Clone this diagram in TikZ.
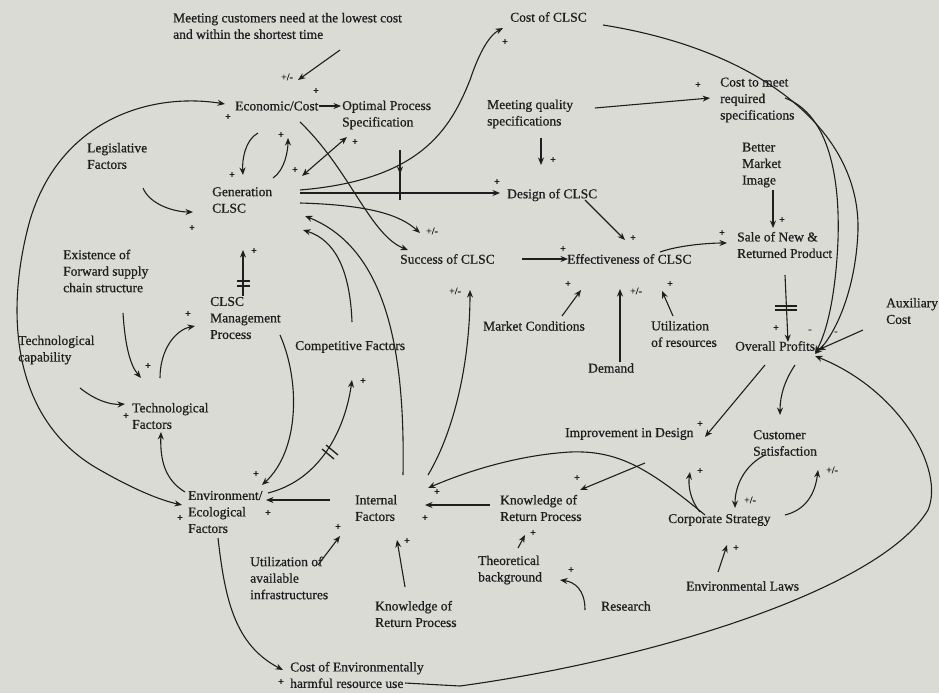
\documentclass[tikz,border=0pt]{standalone}
\usepackage{fontspec}
\setmainfont{Liberation Serif}
\newfontfamily\inkfont{Liberation Serif}[FakeBold=0.7]
\usetikzlibrary{arrows.meta,calc}
\definecolor{bg}{RGB}{219,219,214}
\definecolor{ink}{RGB}{30,30,30}
\begin{document}
\begin{tikzpicture}[x=1pt,y=-1pt,
  lab/.style={anchor=west,inner sep=0pt,align=left,text=ink,font=\inkfont\fontsize{13.5}{16.5}\selectfont},
  pol/.style={inner sep=0pt,text=ink,font=\inkfont\fontsize{10}{10}\selectfont},
  arr/.style={draw=ink,line width=1.1pt,-{Stealth[length=7.5pt,width=6pt]}},
  barr/.style={draw=ink,line width=1.1pt,{Stealth[length=7.5pt,width=6pt]}-{Stealth[length=7.5pt,width=6pt]}},
  dly/.style={draw=ink,line width=1.3pt}]
\fill[bg] (0,0) rectangle (939,693);
\useasboundingbox (0,0) rectangle (939,693);
% nodes
\node[lab] (meet) at (173,26) {Meeting customers need at the lowest cost\\and within the shortest time};
\node[lab] (econ) at (235,106) {Economic/Cost};
\node[lab] (opt) at (342,115) {Optimal Process\\Specification};
\node[lab] (legis) at (87,156) {Legislative\\Factors};
\node[lab] (gen) at (212,200) {Generation\\CLSC};
\node[lab] (costclsc) at (510,17) {Cost of CLSC};
\node[lab] (mqs) at (487,114) {Meeting quality\\specifications};
\node[lab] (ctm) at (720,100) {Cost to meet\\required\\specifications};
\node[lab] (bmi) at (742,165) {Better\\Market\\Image};
\node[lab] (design) at (507,195) {Design of CLSC};
\node[lab] (success) at (400,259) {Success of CLSC};
\node[lab] (eff) at (567,259) {Effectiveness of CLSC};
\node[lab] (sale) at (737,245) {Sale of New \&\\Returned Product};
\node[lab] (exist) at (63,271) {Existence of\\Forward supply\\chain structure};
\node[lab] (mgmt) at (210,318) {CLSC\\Management\\Process};
\node[lab] (comp) at (295,347) {Competitive Factors};
\node[lab] (techcap) at (18,350) {Technological\\capability};
\node[lab] (market) at (483,326) {Market Conditions};
\node[lab] (demand) at (588,368) {Demand};
\node[lab] (util) at (651,334) {Utilization\\of resources};
\node[lab] (profit) at (735,346) {Overall Profits};
\node[lab] (aux) at (886,311) {Auxiliary\\Cost};
\node[lab] (techf) at (132,416) {Technological\\Factors};
\node[lab] (improve) at (565,434) {Improvement in Design};
\node[lab] (cust) at (753,443) {Customer\\Satisfaction};
\node[lab] (env) at (188,512) {Environment/\\Ecological\\Factors};
\node[lab] (internal) at (355,508) {Internal\\Factors};
\node[lab] (krp1) at (500,508) {Knowledge of\\Return Process};
\node[lab] (corp) at (668,520) {Corporate Strategy};
\node[lab] (uai) at (250,578) {Utilization of\\available\\infrastructures};
\node[lab] (krp2) at (375,614) {Knowledge of\\Return Process};
\node[lab] (theo) at (478,570) {Theoretical\\background};
\node[lab] (research) at (601,606) {Research};
\node[lab] (envlaw) at (686,586) {Environmental Laws};
\node[lab] (costenv) at (290,675) {Cost of Environmentally\\harmful resource use};
% connectors
\draw[arr] ($(meet.west)+(167,24)$) -- ($(econ.west)+(63,-26)$);
\draw[barr] ($(econ.west)+(-10,-2)$) .. controls (150,92) and (60,120) .. (30,220) .. controls (5,310) and (10,420) .. (100,470) .. controls (135,490) and (160,500) .. ($(env.west)+(-6,-7)$);
\draw[arr] ($(econ.west)+(23,27)$) .. controls (245,140) and (242,160) .. ($(gen.west)+(31,-25)$);
\draw[arr] ($(gen.west)+(61,-22)$) .. controls (285,170) and (288,150) .. ($(econ.west)+(53,32)$);
\draw[barr] ($(opt.west)+(5,22)$) -- ($(gen.west)+(90,-24)$);
\draw[arr] (econ.east) -- ($(opt.west)+(-1,-9)$);
\draw[arr] ($(legis.west)+(56,32)$) .. controls (150,205) and (175,212) .. ($(gen.west)+(-19,12)$);
\draw[arr] ($(econ.west)+(65,16)$) .. controls (350,170) and (370,235) .. ($(success.west)+(8,-9)$);
\draw[arr] ($(gen.west)+(88,-10)$) .. controls (420,180) and (450,130) .. (470,80) .. controls (480,50) and (490,35) .. ($(costclsc.west)+(-7,11)$);
\draw[arr] ($(gen.west)+(88,-7)$) -- ($(design.west)+(-7,-2)$);
\draw[arr] (400,150) -- (400,174);
\draw[draw=ink,line width=2.4pt] (400,170) -- (400,200);
\draw[arr] ($(gen.west)+(88,3)$) .. controls (370,205) and (400,215) .. ($(success.west)+(20,-26)$);
\draw[arr] ($(internal.west)+(48,-33)$) .. controls (405,360) and (390,250) .. ($(gen.west)+(93,16)$);
\draw[arr] ($(comp.west)+(57,-25)$) .. controls (350,270) and (335,240) .. ($(gen.west)+(91,30)$);
\draw[arr] ($(mgmt.west)+(33,-22)$) -- ($(gen.west)+(31,50)$);
\draw[dly] (237,281) -- (250,281) (237,286) -- (250,286);
\draw[arr] ($(exist.west)+(60,42)$) .. controls (125,345) and (130,365) .. ($(techf.west)+(9,-38)$);
\draw[arr] ($(techf.west)+(28,-38)$) .. controls (160,350) and (175,330) .. ($(mgmt.west)+(-15,8)$);
\draw[arr] ($(techcap.west)+(62,38)$) .. controls (95,400) and (110,405) .. ($(techf.west)+(-7,-12)$);
\draw[arr] ($(env.west)+(-3,-20)$) .. controls (165,480) and (160,460) .. ($(techf.west)+(29,16)$);
\draw[arr] ($(mgmt.west)+(70,17)$) .. controls (300,380) and (300,450) .. ($(env.west)+(74,-27)$);
\draw[arr] ($(env.west)+(80,-19)$) .. controls (320,480) and (345,430) .. ($(comp.west)+(57,33)$);
\draw[dly] (322,449) -- (334,459) (326,445) -- (338,455);
\draw[arr] ($(internal.west)+(-25,-8)$) -- ($(env.west)+(78,-12)$);
\draw[arr] ($(internal.west)+(73,-33)$) .. controls (455,430) and (470,360) .. ($(success.west)+(70,31)$);
\draw[arr] ($(krp1.west)+(-10,-3)$) -- ($(internal.west)+(70,-3)$);
\draw[arr] ($(corp.west)+(37,-5)$) .. controls (650,470) and (620,450) .. (570,452) .. controls (520,455) and (470,470) .. ($(internal.west)+(73,-20)$);
\draw[arr] ($(improve.west)+(80,29)$) -- ($(krp1.west)+(80,-18)$);
\draw[arr] ($(profit.west)+(30,19)$) -- ($(improve.west)+(140,3)$);
\draw[arr] ($(profit.west)+(60,19)$) .. controls (785,380) and (780,395) .. ($(cust.west)+(27,-28)$);
\draw[arr] ($(cust.west)+(12,12)$) .. controls (745,465) and (735,485) .. ($(corp.west)+(67,-12)$);
\draw[arr] ($(corp.west)+(117,-5)$) .. controls (805,510) and (815,495) .. ($(cust.west)+(65,27)$);
\draw[arr] ($(corp.west)+(32,-8)$) .. controls (690,500) and (688,485) .. ($(improve.west)+(125,38)$);
\draw[arr] ($(envlaw.west)+(32,-14)$) -- ($(corp.west)+(59,25)$);
\draw[arr] ($(research.west)+(-16,4)$) .. controls (585,590) and (575,582) .. ($(theo.west)+(82,10)$);
\draw[arr] ($(theo.west)+(40,-22)$) -- ($(krp1.west)+(25,27)$);
\draw[arr] ($(krp2.west)+(30,-27)$) -- ($(internal.west)+(42,32)$);
\draw[arr] ($(uai.west)+(68,-13)$) -- ($(internal.west)+(-15,28)$);
\draw[arr] ($(env.west)+(30,26)$) .. controls (225,600) and (235,645) .. ($(costenv.west)+(-7,-5)$);
\draw[arr] ($(costenv.west)+(115,8)$) -- (460,686) .. controls (650,660) and (880,590) .. (928,510) .. controls (945,470) and (900,390) .. ($(profit.west)+(80,10)$);
\draw[arr] ($(costclsc.west)+(93,8)$) .. controls (760,50) and (860,130) .. (858,230) .. controls (856,290) and (835,335) .. ($(profit.west)+(80,8)$);
\draw[arr] ($(ctm.west)+(65,-2)$) .. controls (830,115) and (840,180) .. (838,240) .. controls (836,290) and (828,330) .. ($(profit.west)+(80,7)$);
\draw[arr] ($(aux.west)+(-23,19)$) -- ($(profit.west)+(83,4)$);
\draw[arr] ($(sale.west)+(48,30)$) -- ($(profit.west)+(53,-4)$);
\draw[dly] (775,306) -- (797,306) (775,310) -- (797,310);
\draw[arr] ($(bmi.west)+(31,25)$) -- ($(sale.west)+(36,-17)$);
\draw[arr] ($(design.west)+(78,5)$) -- ($(eff.west)+(58,-19)$);
\draw[arr] ($(mqs.west)+(54,24)$) -- ($(design.west)+(34,-30)$);
\draw[arr] ($(mqs.west)+(108,-6)$) -- ($(ctm.west)+(-10,-2)$);
\draw[arr] ($(success.west)+(122,0)$) -- ($(eff.west)+(1,0)$);
\draw[arr] ($(eff.west)+(93,-7)$) .. controls (680,245) and (710,243) .. ($(sale.west)+(-10,-2)$);
\draw[arr] ($(market.west)+(79,-10)$) -- ($(eff.west)+(14,31)$);
\draw[arr] ($(demand.west)+(32,-6)$) -- ($(eff.west)+(53,30)$);
\draw[arr] ($(util.west)+(22,-18)$) -- ($(eff.west)+(95,32)$);
% polarity labels
\node[pol] (p1) at (287,77) {+/-};
\node[pol] (p2) at (316,91) {+};
\node[pol] (p3) at (228,117) {+};
\node[pol] (p4) at (180,518) {+};
\node[pol] (p5) at (232,175) {+};
\node[pol] (p6) at (281,135) {+};
\node[pol] (p7) at (355,142) {+};
\node[pol] (p8) at (295,170) {+};
\node[pol] (p9) at (192,228) {+};
\node[pol] (p10) at (505,42) {+};
\node[pol] (p11) at (497,182) {+};
\node[pol] (p12) at (432,231) {+/-};
\node[pol] (p13) at (254,251) {+};
\node[pol] (p14) at (148,366) {+};
\node[pol] (p15) at (188,314) {+};
\node[pol] (p16) at (126,416) {+};
\node[pol] (p17) at (256,474) {+};
\node[pol] (p18) at (363,381) {+};
\node[pol] (p19) at (268,513) {+};
\node[pol] (p20) at (455,291) {+/-};
\node[pol] (p21) at (425,518) {+};
\node[pol] (p22) at (437,492) {+};
\node[pol] (p23) at (577,478) {+};
\node[pol] (p24) at (700,424) {+};
\node[pol] (p25) at (750,500) {+/-};
\node[pol] (p26) at (832,470) {+/-};
\node[pol] (p27) at (700,471) {+};
\node[pol] (p28) at (736,548) {+};
\node[pol] (p29) at (571,570) {+};
\node[pol] (p30) at (533,533) {+};
\node[pol] (p31) at (407,541) {+};
\node[pol] (p32) at (338,527) {+};
\node[pol] (p33) at (281,682) {+};
\node[pol] (p34) at (776,328) {+};
\node[pol] (p35) at (810,331) {-};
\node[pol] (p36) at (836,333) {-};
\node[pol] (p37) at (782,220) {+};
\node[pol] (p38) at (633,238) {+};
\node[pol] (p39) at (553,160) {+};
\node[pol] (p40) at (698,85) {+};
\node[pol] (p41) at (563,249) {+};
\node[pol] (p42) at (722,233) {+};
\node[pol] (p43) at (568,284) {+};
\node[pol] (p44) at (636,291) {+/-};
\node[pol] (p45) at (670,284) {+};
\end{tikzpicture}
\end{document}
